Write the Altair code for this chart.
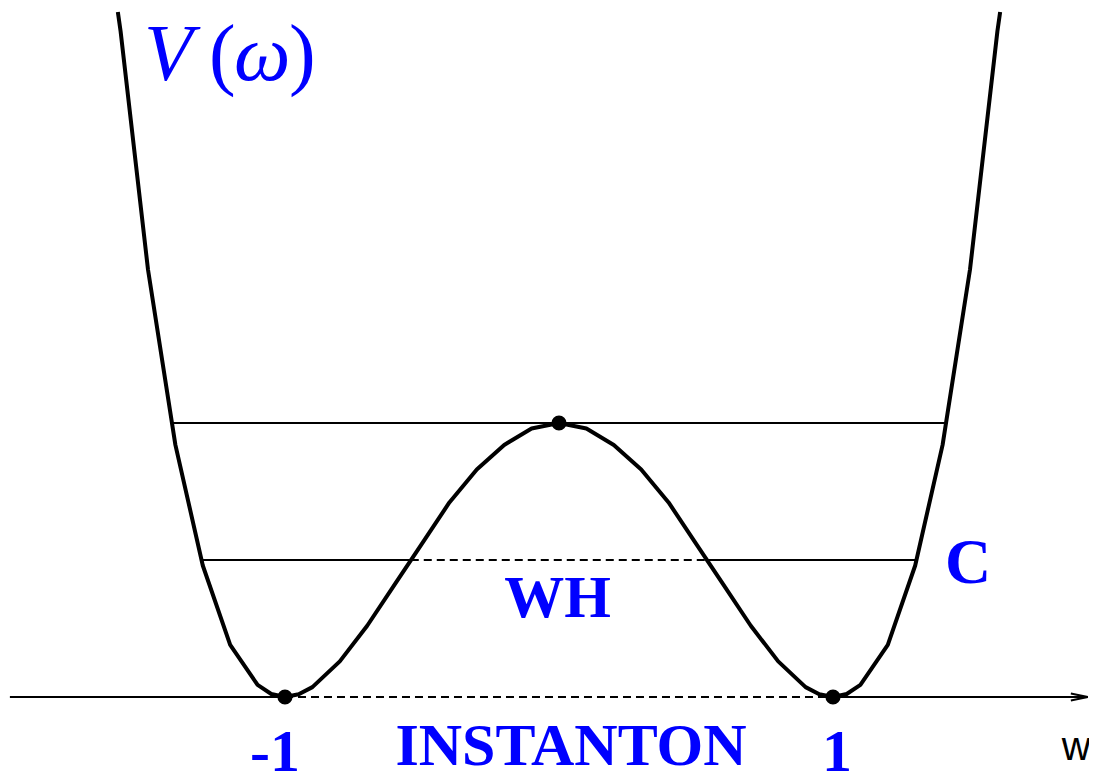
import altair as alt
import pandas as pd

# ---- curve V(w) (w, V) ----
curve_w = [-1.61, -1.6, -1.5, -1.4, -1.3, -1.2, -1.1, -1.05, -1.0, -0.95, -0.9, -0.8,
           -0.7, -0.6, -0.5, -0.4, -0.3, -0.2, -0.1, 0.0, 0.1, 0.2, 0.3, 0.4, 0.5,
           0.6, 0.7, 0.8, 0.9, 0.95, 1.0, 1.05, 1.1, 1.2, 1.3, 1.4, 1.5, 1.6, 1.61]
curve_v = [2.50, 2.43, 1.56, 0.92, 0.48, 0.19, 0.044, 0.011, 0.0, 0.010, 0.036, 0.13,
           0.26, 0.41, 0.56, 0.71, 0.83, 0.92, 0.98, 1.0, 0.98, 0.92, 0.83, 0.71, 0.56,
           0.41, 0.26, 0.13, 0.036, 0.010, 0.0, 0.011, 0.044, 0.19, 0.48, 0.92, 1.56, 2.43, 2.50]

# ---- horizontal levels: solid and dashed pieces (w start, w end, V) ----
solid_x1 = [-2.004, 1.0, -1.414, -1.307, 0.541]
solid_x2 = [-1.0, 1.93, 1.414, -0.541, 1.307]
solid_y = [0.0, 0.0, 1.0, 0.5, 0.5]
dash_x1 = [-1.0, -0.541]
dash_x2 = [1.0, 0.541]
dash_y = [0.0, 0.5]

# arrow head on the w axis
arrow_x1 = [1.868, 1.868]
arrow_y1 = [0.013, -0.013]
arrow_x2 = [1.93, 1.93]
arrow_y2 = [0.0, 0.0]

# marked points
dot_w = [-1.0, 0.0, 1.0]
dot_v = [0.0, 1.0, 0.0]

# labels
bold_text = ["-1", "1", "INSTANTON", "WH"]
bold_x = [-1.0365, 1.0146, 0.0438, -0.0055]
bold_y = [-0.270, -0.270, -0.248, 0.292]
c_text = ["C"]
c_x = [1.409]
c_y = [0.416]
w_text = ["w"]
w_x = [1.835]
w_y = [-0.230]
vit_text = ["V", "ω"]
vit_x = [-1.515, -1.186]
vit_y = [2.252, 2.252]
par_text = ["(", ")"]
par_x = [-1.277, -0.985]
par_y = [2.252, 2.252]

# plot area covers the page from (0,0) to (1089,800); 274 px per unit
XS = alt.Scale(domain=[-2.0401, 1.9343], nice=False, zero=False)
YS = alt.Scale(domain=[-0.3759, 2.5438], nice=False, zero=False)


def X(f="x"):
    return alt.X(f"{f}:Q", scale=XS, axis=None)


def Y(f="y"):
    return alt.Y(f"{f}:Q", scale=YS, axis=None)


curve = alt.Chart(pd.DataFrame({"x": curve_w, "y": curve_v})).mark_line(
    color="black", strokeWidth=4, strokeJoin="round"
).encode(x=X(), y=Y(), order=alt.Order("x:Q"))

solid = alt.Chart(pd.DataFrame({"x": solid_x1, "x2": solid_x2, "y": solid_y})).mark_rule(
    color="black", strokeWidth=2
).encode(x=X(), x2="x2:Q", y=Y())

dashed = alt.Chart(pd.DataFrame({"x": dash_x1, "x2": dash_x2, "y": dash_y})).mark_rule(
    color="black", strokeWidth=2, strokeDash=[8, 5]
).encode(x=X(), x2="x2:Q", y=Y())

arrow = alt.Chart(pd.DataFrame({"x": arrow_x1, "y": arrow_y1, "x2": arrow_x2, "y2": arrow_y2})).mark_rule(
    color="black", strokeWidth=2
).encode(x=X(), y=Y(), x2="x2:Q", y2="y2:Q")

dots = alt.Chart(pd.DataFrame({"x": dot_w, "y": dot_v})).mark_circle(
    color="black", size=230, opacity=1
).encode(x=X(), y=Y())


def text_layer(texts, xs, ys, **kw):
    return alt.Chart(pd.DataFrame({"x": xs, "y": ys, "t": texts})).mark_text(
        baseline="alphabetic", **kw
    ).encode(x=X(), y=Y(), text="t:N")


bold = text_layer(bold_text, bold_x, bold_y, align="center", font="Liberation Serif",
                  fontWeight="bold", fontSize=60, color="#0000ff")
ctext = text_layer(c_text, c_x, c_y, align="left", font="Liberation Serif",
                   fontWeight="bold", fontSize=64, color="#0000ff")
wtext = text_layer(w_text, w_x, w_y, align="left", font="Liberation Sans",
                   fontSize=40, color="black")
vit = text_layer(vit_text, vit_x, vit_y, align="left", font="Liberation Serif",
                 fontStyle="italic", fontSize=80, color="#0000ff")
par = text_layer(par_text, par_x, par_y, align="left", font="Liberation Serif",
                 fontSize=80, color="#0000ff")

chart = alt.layer(solid, dashed, arrow, curve, dots, bold, ctext, wtext, vit, par).properties(
    width=1089, height=800,
    padding={"left": -8, "top": -8, "right": 0, "bottom": 0},
    autosize=alt.AutoSizeParams(type="none")
).configure_view(strokeWidth=0)

chart.save("out.html", embed_options={"renderer": "svg", "actions": False})
